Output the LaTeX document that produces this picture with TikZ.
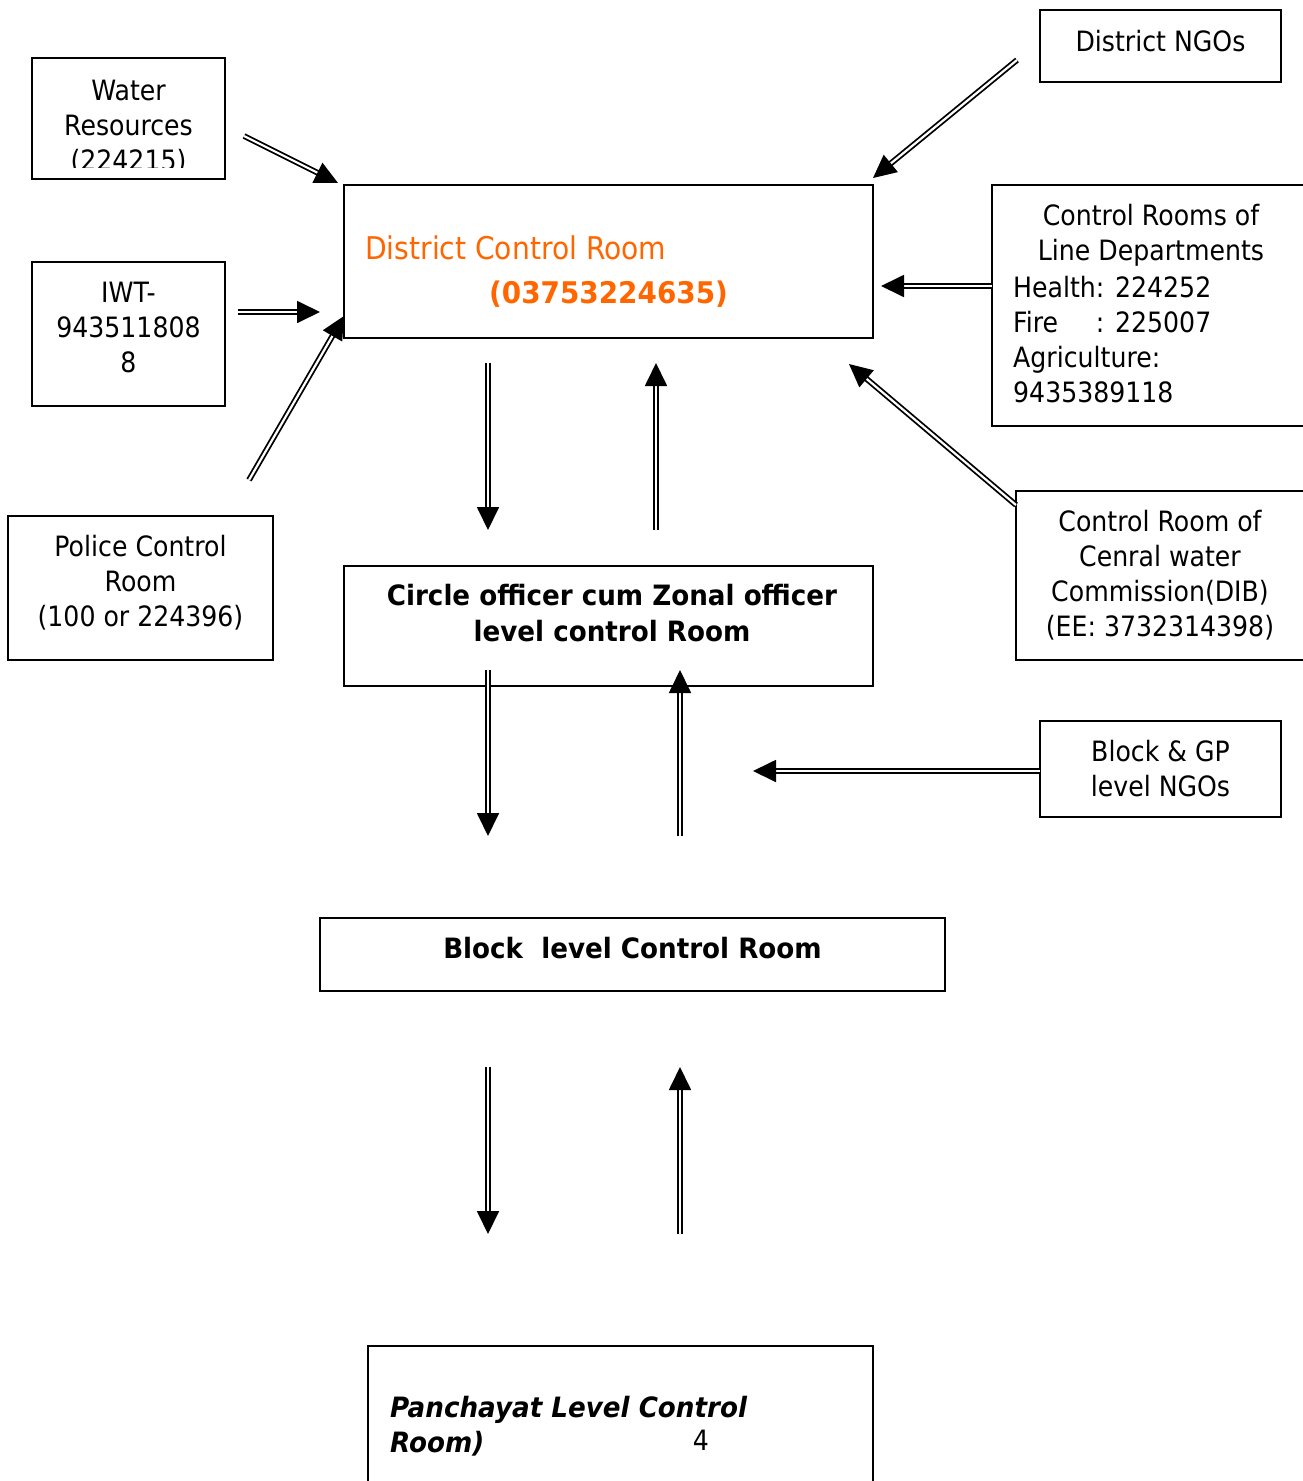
\documentclass[tikz,border=0pt]{standalone}
\usepackage{fontspec}
\setmainfont{DejaVu Sans}[FakeStretch=0.9, BoldFeatures={FakeStretch=0.935}, BoldItalicFeatures={FakeStretch=0.935}]
\usetikzlibrary{arrows.meta}
\definecolor{dcrorange}{HTML}{FF6600}
\tikzset{
  box/.style={draw, line width=1.5pt, inner sep=0pt},
  txt/.style={inner sep=0pt, align=center, font=\fontsize{28}{35}\selectfont},
  conn/.style={double, double distance=2.2pt, line width=1.8pt, -{Triangle[length=23pt,width=22pt]}},
}
\begin{document}
\begin{tikzpicture}[x=1pt,y=-1pt]
\useasboundingbox (0,0) rectangle (1303,1481);
% boxes
\node[box, minimum width=193pt, minimum height=121pt] (wr) at (128.5,118.5) {};
\node[box, minimum width=193pt, minimum height=144pt] (iwt) at (128.5,334) {};
\node[box, minimum width=265pt, minimum height=144pt] (pol) at (140.5,588) {};
\node[box, minimum width=529pt, minimum height=153pt] (dcr) at (608.5,261.5) {};
\node[box, minimum width=241pt, minimum height=72pt] (ngo) at (1160.5,46) {};
\node[box, minimum width=330pt, minimum height=241pt] (ld) at (1157,305.5) {};
\node[box, minimum width=306pt, minimum height=169pt] (cwc) at (1169,575.5) {};
\node[box, minimum width=529pt, minimum height=120pt] (co) at (608.5,626) {};
\node[box, minimum width=241pt, minimum height=96pt] (bng) at (1160.5,769) {};
\node[box, minimum width=625pt, minimum height=73pt] (blk) at (632.5,954.5) {};
\node[box, minimum width=505pt, minimum height=150pt] (pan) at (620.5,1421) {};
% texts
\begin{scope}
\clip (33,59) rectangle (224,167);
\node[txt] (wrT) at (128.5,127) {Water\\Resources\\(224215)};
\end{scope}
\node[txt] (iwtT) at (128.5,327) {IWT-\\943511808\\8};
\node[txt] (polT) at (140.5,583) {Police Control\\Room\\(100 or 224396)};
\node[txt, anchor=west, text=dcrorange, font=\fontsize{31.3}{35}\selectfont] (dcrT1) at (365,248) {District Control Room};
\node[txt, text=dcrorange, font=\fontsize{29.8}{35}\selectfont\bfseries] (dcrT2) at (608.5,294) {(03753224635)};
\node[txt] (ngoT) at (1160.5,41) {District NGOs};
\node[txt] (ldT1) at (1151,235.5) {Control Rooms of\\Line Departments};
\node[txt, anchor=west, align=left] (ldT2) at (1013,339.5) {Health: 224252\\\rlap{Fire}\phantom{Health}: 225007\\Agriculture:\\9435389118};
\node[txt] (cwcT) at (1160,575.5) {Control Room of\\Cenral water\\Commission(DIB)\\(EE: 3732314398)};
\node[txt, font=\fontsize{28}{36}\selectfont\bfseries] (coT) at (612,613) {Circle officer cum Zonal officer\\level control Room};
\node[txt] (bngT) at (1160.5,768.5) {Block \& GP\\level NGOs};
\node[txt, font=\fontsize{28}{35}\selectfont\bfseries] (blkT) at (632.5,948) {Block\ \ level Control Room};
\node[txt, anchor=west, align=left, font=\fontsize{28}{35}\selectfont\bfseries\itshape] (panT) at (390,1426.5) {Panchayat Level Control\\Room)};
\node[txt] (panN) at (701,1440) {4};
% connector ends
\coordinate (a1s) at (244,136); \coordinate (a1e) at (338,183);
\coordinate (a2s) at (238,312); \coordinate (a2e) at (320,312);
\coordinate (a3s) at (249,480); \coordinate (a3e) at (344,316);
\coordinate (a4s) at (1017,60); \coordinate (a4e) at (873,178);
\coordinate (a5s) at (992,286); \coordinate (a5e) at (881,286);
\coordinate (a6s) at (1016,505); \coordinate (a6e) at (849,364);
\coordinate (a7s) at (488,363); \coordinate (a7e) at (488,530);
\coordinate (a8s) at (656,530); \coordinate (a8e) at (656,363);
\coordinate (a9s) at (488,670); \coordinate (a9e) at (488,836);
\coordinate (a10s) at (680,836); \coordinate (a10e) at (680,670);
\coordinate (a11s) at (1040,771); \coordinate (a11e) at (753,771);
\coordinate (a12s) at (488,1067); \coordinate (a12e) at (488,1234);
\coordinate (a13s) at (680,1234); \coordinate (a13e) at (680,1067);
\foreach \i in {1,...,13} { \draw[conn] (a\i s) -- (a\i e); }
\end{tikzpicture}
\end{document}
